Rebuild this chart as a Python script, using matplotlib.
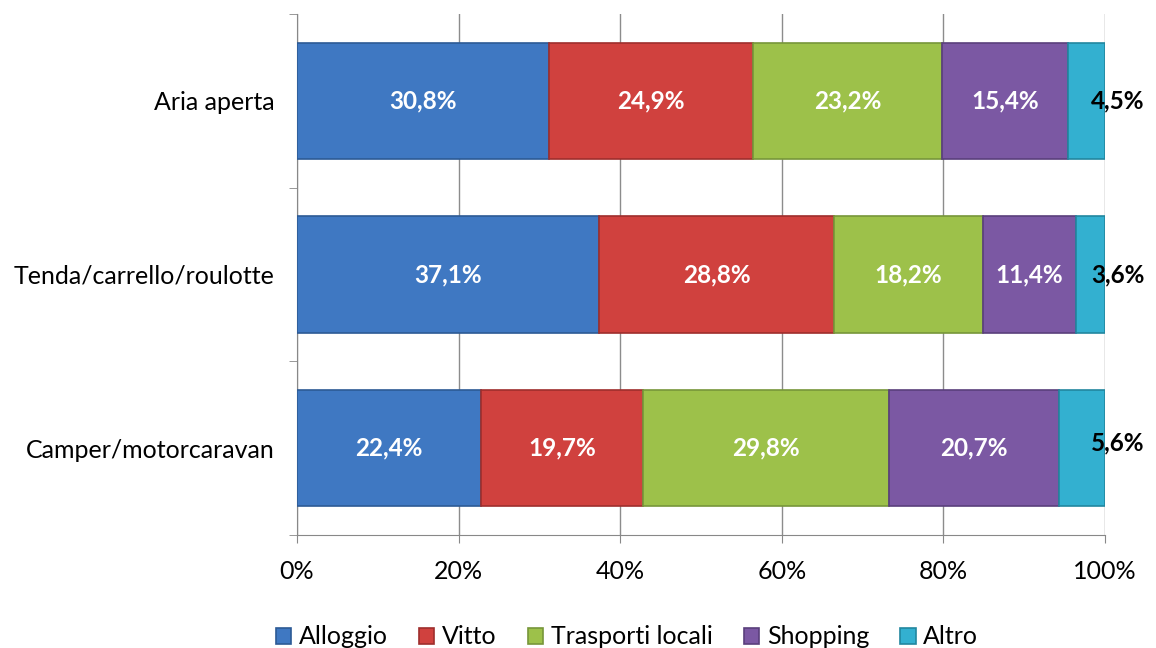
import numpy as np
import matplotlib.pyplot as plt

plt.rcParams['font.family'] = ['Lato', 'DejaVu Sans']

categories = ['Camper/motorcaravan', 'Tenda/carrello/roulotte', 'Aria aperta']
series = ['Alloggio', 'Vitto', 'Trasporti locali', 'Shopping', 'Altro']
alloggio = [22.4, 37.1, 30.8]
vitto = [19.7, 28.8, 24.9]
trasporti = [29.8, 18.2, 23.2]
shopping = [20.7, 11.4, 15.4]
altro = [5.6, 3.6, 4.5]
colors = ['#3F78C2', '#D0413E', '#9DC14A', '#7B58A3', '#33B0D0']
edges = ['#2C5A95', '#9E2E2C', '#77963A', '#5A3F7C', '#22879F']

data = np.array([alloggio, vitto, trasporti, shopping, altro])
totals = data.sum(axis=0)
shares = data / totals

fig = plt.figure(figsize=(11.56, 6.48), dpi=100)
ax = fig.add_axes([297 / 1156, 1 - 535 / 648, 808 / 1156, 521 / 648])

y = np.arange(len(categories))
left = np.zeros(len(categories))
for i, name in enumerate(series):
    ax.barh(y, shares[i], left=left, height=0.67, color=colors[i],
            edgecolor=edges[i], linewidth=1.2, label=name, zorder=3)
    for j in range(len(categories)):
        txt = f"{data[i, j]:.1f}%".replace('.', ',')
        if name == 'Altro':
            dy = 0.03 if j == 0 else 0
            ax.text(1.016, y[j] + dy, txt, ha='center', va='center',
                    fontsize=17.5, fontweight='bold', color='black', zorder=5)
        else:
            ax.text(left[j] + shares[i, j] / 2, y[j], txt, ha='center',
                    va='center', fontsize=17.5, fontweight='bold',
                    color='white', zorder=5)
    left += shares[i]

ax.set_xlim(0, 1)
ax.set_ylim(-0.5, 2.5)
ax.set_xticks(np.linspace(0, 1, 6))
ax.set_xticklabels([f"{v}%" for v in range(0, 101, 20)], fontsize=18)
ax.set_yticks(y)
ax.set_yticklabels(categories, fontsize=18)
ax.set_yticks([-0.5, 0.5, 1.5, 2.5], minor=True)
ax.tick_params(axis='y', which='major', length=0, pad=16)
ax.tick_params(axis='y', which='minor', length=6, color='#888888')
ax.tick_params(axis='x', length=6, color='#888888', pad=12)
ax.grid(axis='x', color='#8C8C8C', linewidth=1, zorder=0)
for s in ['top', 'right']:
    ax.spines[s].set_visible(False)
for s in ['left', 'bottom']:
    ax.spines[s].set_color('#888888')

fig.legend(loc='center', bbox_to_anchor=(627 / 1156, 1 - 637 / 648),
           ncol=5, frameon=False, fontsize=18, handlelength=0.62,
           handleheight=0.62, handletextpad=0.3, columnspacing=1.25)

fig.savefig('out.png', dpi=100)
